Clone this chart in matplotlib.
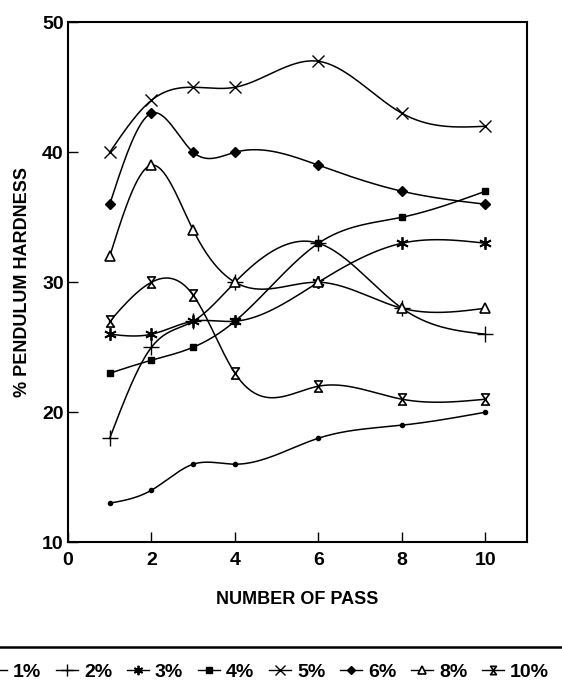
import numpy as np
import matplotlib
matplotlib.use("Agg")
import matplotlib.pyplot as plt
from matplotlib.lines import Line2D
from matplotlib.path import Path

plt.rcParams['font.family'] = ['Liberation Sans', 'DejaVu Sans']

# data
passes = [1, 2, 3, 4, 6, 8, 10]
series_labels = ['1%', '2%', '3%', '4%', '5%', '6%', '8%', '10%']
h1 = [13, 14, 16, 16, 18, 19, 20]
h2 = [18, 25, 27, 30, 33, 28, 26]
h3 = [26, 26, 27, 27, 30, 33, 33]
h4 = [23, 24, 25, 27, 33, 35, 37]
h5 = [40, 44, 45, 45, 47, 43, 42]
h6 = [36, 43, 40, 40, 39, 37, 36]
h8 = [32, 39, 34, 30, 30, 28, 28]
h10 = [27, 30, 29, 23, 22, 21, 21]
series = [h1, h2, h3, h4, h5, h6, h8, h10]

x_ticks = [0, 2, 4, 6, 8, 10]
y_ticks = [10, 20, 30, 40, 50]

# hourglass marker (narrow, with bars top and bottom)
hourglass = Path([(-0.7, 1), (0.7, 1), (-0.7, -1), (0.7, -1), (-0.7, 1)],
                 [Path.MOVETO, Path.LINETO, Path.LINETO, Path.LINETO, Path.CLOSEPOLY])

styles = [
    dict(marker='o', ms=3, mfc='black'),
    dict(marker='+', ms=11, mew=1.0),
    dict(marker=(6, 2, 0), ms=9, mew=1.3),
    dict(marker='s', ms=5, mfc='black'),
    dict(marker='x', ms=9, mew=1.0),
    dict(marker='D', ms=5, mfc='black'),
    dict(marker='^', ms=7, mfc='white', mew=1.2),
    dict(marker=hourglass, ms=8, mfc='white', mew=1.2),
]


def smooth(x, y, n=300):
    # natural cubic spline through the points
    x = np.asarray(x, float)
    y = np.asarray(y, float)
    k = len(x)
    h = np.diff(x)
    A = np.zeros((k, k))
    b = np.zeros(k)
    A[0, 0] = A[-1, -1] = 1
    for i in range(1, k - 1):
        A[i, i - 1] = h[i - 1]
        A[i, i] = 2 * (h[i - 1] + h[i])
        A[i, i + 1] = h[i]
        b[i] = 6 * ((y[i + 1] - y[i]) / h[i] - (y[i] - y[i - 1]) / h[i - 1])
    M = np.linalg.solve(A, b)
    xs = np.linspace(x[0], x[-1], n)
    j = np.clip(np.searchsorted(x, xs) - 1, 0, k - 2)
    t1 = x[j + 1] - xs
    t0 = xs - x[j]
    hj = h[j]
    ys = (M[j] * t1 ** 3 / (6 * hj) + M[j + 1] * t0 ** 3 / (6 * hj)
          + (y[j] / hj - M[j] * hj / 6) * t1 + (y[j + 1] / hj - M[j + 1] * hj / 6) * t0)
    return xs, ys


fig = plt.figure(figsize=(5.62, 6.96), dpi=100)
ax = fig.add_axes([0.121, 0.221, 0.817, 0.747])

handles = []
for vals, st, lab in zip(series, styles, series_labels):
    xs, ys = smooth(passes, vals)
    ax.plot(xs, ys, color='black', lw=1.1)
    ax.plot(passes, vals, ls='none', color='black', mec='black', **st)
    small = dict(st)
    small['ms'] = st['ms'] * 0.75
    handles.append(Line2D([0], [0], color='black', lw=1.0, **small))

ax.set_xlim(0, 11)
ax.set_ylim(10, 50)
ax.set_xticks(x_ticks)
ax.set_yticks(y_ticks)
ax.tick_params(direction='in', length=7, width=1.0, labelsize=14)
ax.tick_params(axis='x', pad=7)
ax.tick_params(axis='y', pad=3)
for lbl in ax.get_xticklabels() + ax.get_yticklabels():
    lbl.set_fontweight('bold')
for sp in ax.spines.values():
    sp.set_linewidth(1.5)

ax.set_xlabel('NUMBER OF PASS', fontsize=13, fontweight='bold', labelpad=16)
ax.set_ylabel('% PENDULUM HARDNESS', fontsize=13, fontweight='bold', labelpad=8)

fig.add_artist(Line2D([0, 1], [0.071, 0.071], color='black', lw=1.8))

fig.legend(handles, series_labels, loc='center', bbox_to_anchor=(0.475, 0.034),
           ncol=8, frameon=False, handlelength=1.15, handletextpad=0.3,
           columnspacing=0.75, prop=dict(size=14, weight='bold'))

fig.savefig('out.png', dpi=100)
